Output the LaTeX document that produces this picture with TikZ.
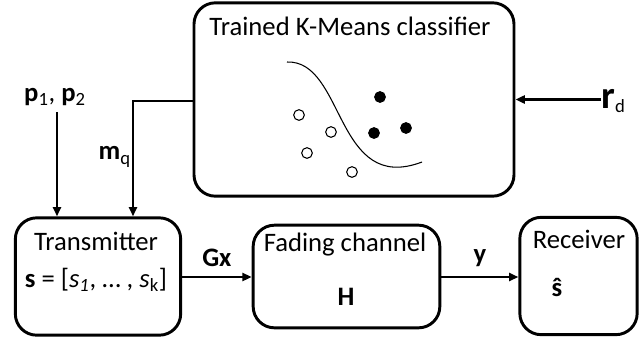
\documentclass[tikz,border=0pt]{standalone}
\usepackage{fontspec}
\setmainfont{Carlito}
\usepackage{tikz}
\usetikzlibrary{calc}
\usetikzlibrary{arrows.meta}

\tikzset{
    block/.style={draw, line width=2.2pt, rounded corners=16pt, inner sep=0pt},
    wire/.style={draw, line width=2.2pt},
    tip/.style={-{Triangle[length=7pt,width=6pt]}},
    lbl/.style={inner sep=0pt, font=\fontsize{20}{23}\selectfont},
    dot/.style={circle, draw, line width=0.8pt, minimum size=8pt, inner sep=0pt}
}

\begin{document}
\begin{tikzpicture}[x=0.75pt, y=-0.75pt]
    \useasboundingbox (0,0) rectangle (641,340);

    % Blocks
    \node[block, minimum width=240pt, minimum height=145pt] (cls) at (354,99.5) {};
    \node[block, minimum width=124pt, minimum height=88pt] (tx) at (98,276.5) {};
    \node[block, minimum width=140pt, minimum height=77pt] (ch) at (346.5,276.5) {};
    \node[block, minimum width=88pt, minimum height=88pt] (rx) at (578.5,276) {};

    \node[lbl] (clstitle) at (350,26) {Trained K-Means classifier};
    \node[lbl] (txtitle) at (96,241) {Transmitter};
    \node[lbl] (txsym) at (96,280) {\textbf{s} = [\textit{s}\textsubscript{\textit{1}}, \ldots\ , \textit{s}\textsubscript{k}]};
    \node[lbl] (chtitle) at (345,245) {Fading channel};
    \node[lbl] (chsym) at (346,297) {\textbf{H}};
    \node[lbl] (rxtitle) at (579,239) {Receiver};
    \node[lbl] (rxsym) at (557,287) {\textbf{ŝ}};

    % Decision boundary and clusters
    \draw[line width=0.8pt] (287,62) .. controls (345,60) and (335,195) .. (422,162);
    \foreach \px/\py [count=\i] in {299/115, 331/132, 307/153, 352/172}
        \node[dot] (w\i) at (\px,\py) {};
    \foreach \px/\py [count=\i] in {380/97, 374/133, 406/128}
        \node[dot, fill=black] (b\i) at (\px,\py) {};

    % Inputs
    \node[lbl] (p) at (55,97) {\textbf{p}\textsubscript{1}, \textbf{p}\textsubscript{2}};
    \coordinate (ptop) at (57,112);
    \draw[line width=2.2pt, tip] (ptop) -- (ptop |- tx.north);

    \coordinate (mq) at (133,101);
    \draw[line width=2.2pt, tip] (cls.west |- mq) -- (mq) -- (mq |- tx.north);
    \node[lbl, anchor=east] (mqlbl) at (131,157) {\textbf{m}\textsubscript{q}};

    \node[lbl, anchor=west] (rd) at (601,101) {\textbf{\fontsize{29}{30}\selectfont r}\textsubscript{d}};
    \draw[line width=2.2pt, tip] (rd.west |- cls.east) -- (cls.east);

    % Chain
    \draw[line width=2.2pt, tip] (tx.east |- 0,277) -- (ch.west |- 0,277) node[midway, above=7pt, lbl] {\textbf{Gx}};
    \draw[line width=2.2pt, tip] (ch.east |- 0,277) -- (rx.west |- 0,277) node[midway, above=7pt, lbl] {\textbf{y}};
\end{tikzpicture}
\end{document}
